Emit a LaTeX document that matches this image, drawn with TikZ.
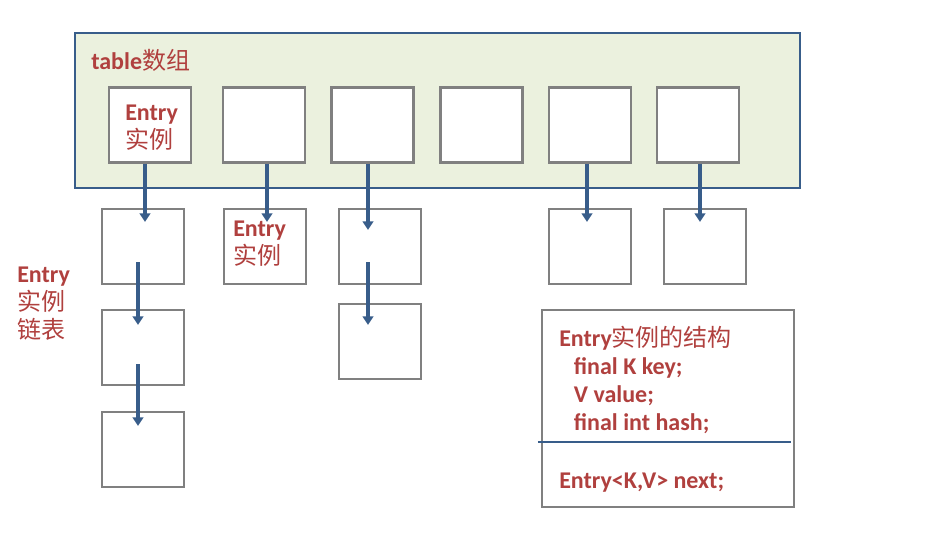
\documentclass[tikz,border=0pt]{standalone}
\usepackage{fontspec}
\setmainfont{Carlito}
\newfontfamily\zhfont{Noto Sans CJK SC}
\usetikzlibrary{calc}
\usetikzlibrary{arrows.meta}
\definecolor{hmred}{RGB}{176,64,62}
\definecolor{hmblue}{RGB}{56,93,138}
\definecolor{hmgreen}{RGB}{235,241,222}
\definecolor{boxgray}{RGB}{128,128,128}
\newcommand{\zh}[1]{{\zhfont\mdseries #1}}

\begin{document}
\begin{tikzpicture}[x=0.75pt,y=-0.75pt,inner sep=0pt,
  slot/.style={draw=boxgray,line width=1.6pt,fill=white,minimum width=61.5pt,minimum height=56.25pt},
  link/.style={draw=hmblue,line width=3pt,-{Triangle[length=6.5pt,width=8pt]}},
  txt/.style={text=hmred,font=\fontsize{18}{21}\selectfont\bfseries,align=left,anchor=west}]
\useasboundingbox (0,0) rectangle (932,550);

% the table array
\draw[draw=hmblue,fill=hmgreen,line width=1.6pt] (75,33) rectangle (800,188);
\node[txt] (tbl) at (91,60) {table\zh{数组}};
\foreach \i/\x in {1/150,2/264,3/372.5,4/481.5,5/590,6/698}
  \node[slot] (t\i) at (\x,125) {};
\node[txt] (e1) at (125,128) {Entry\\\zh{实例}};

% entries hanging below
\node[slot] (c11) at (143,246.5) {};
\node[slot] (c12) at (143,347.5) {};
\node[slot] (c13) at (143,449.5) {};
\node[slot] (c21) at (265,246.5) {};
\node[txt] (e2) at (233,244) {Entry\\\zh{实例}};
\node[slot] (c31) at (380,246.5) {};
\node[slot] (c32) at (380,341.5) {};
\node[slot] (c51) at (590,246.5) {};
\node[slot] (c61) at (705,246.5) {};

\draw[link] ($(t1.south)+(-5,0)$) -- ($(c11.north)+(2,14)$);
\draw[link] ($(c11.center)+(-5,15.5)$) -- ($(c12.north)+(-5,16)$);
\draw[link] ($(c12.center)+(-5,16.5)$) -- ($(c13.north)+(-5,15)$);
\draw[link] ($(t2.south)+(3,0)$) -- ($(c21.north)+(2,14)$);
\draw[link] ($(t3.south)+(-4.5,0)$) -- ($(c31.north)+(-12,22)$);
\draw[link] ($(c31.center)+(-12,15.5)$) -- ($(c32.north)+(-12,22)$);
\draw[link] ($(t5.south)+(-3,0)$) -- ($(c51.north)+(-3,14)$);
\draw[link] ($(t6.south)+(2,0)$) -- ($(c61.north)+(-5,14)$);

\node[txt] (chain) at (17,304) {Entry\\\zh{实例}\\\zh{链表}};

% structure of one entry
\node[draw=boxgray,line width=1.6pt,minimum width=189pt,minimum height=147.75pt] (info) at (668,408.5) {};
\draw[hmblue,line width=2pt] ($(info.west)+(-3,33.5)$) -- ($(info.east)+(-4,33.5)$);
\node[txt,anchor=north west] (fields) at (559,326) {Entry\zh{实例的结构}\\
  \hspace*{11pt}final K key;\\
  \hspace*{11pt}V value;\\
  \hspace*{11pt}final int hash;};
\node[txt] (next) at (559,483) {Entry<K,V> next;};
\end{tikzpicture}
\end{document}
